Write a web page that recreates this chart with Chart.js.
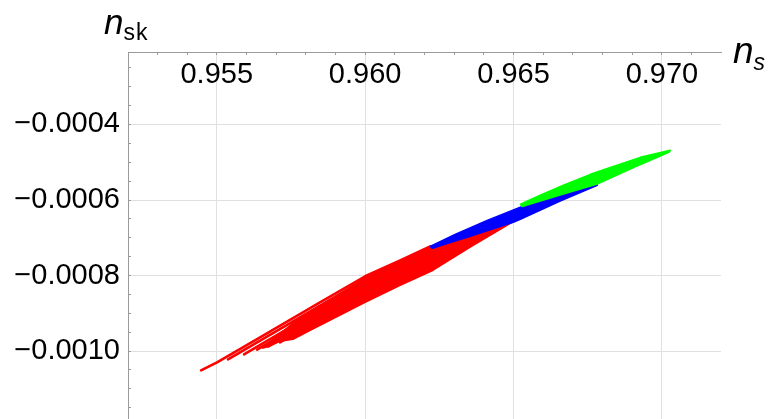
<!DOCTYPE html>
<html><head><meta charset="utf-8">
<script src="https://cdn.jsdelivr.net/npm/chart.js@4.4.0/dist/chart.umd.min.js"></script>
<style>
html,body{margin:0;padding:0;background:#fff;}
#wrap{position:relative;width:768px;height:419px;overflow:hidden;}
canvas{position:absolute;left:0;top:0;}
.lab{position:absolute;font-family:'Liberation Sans',Arial,sans-serif;color:#000;white-space:nowrap;}
.lab i{font-style:italic;}
.lab .sub{font-size:23px;position:relative;top:6px;letter-spacing:1px;}
</style></head><body>
<div id="wrap">
<canvas id="c" width="768" height="419"></canvas>
<div class="lab" style="left:104px;top:4px;font-size:35px;line-height:35px"><i>n</i><span class="sub">sk</span></div>
<div class="lab" style="left:733px;top:32px;font-size:37px;line-height:37px"><i>n</i><span class="sub" style="top:7px"><i>s</i></span></div>
</div>
<script>
// axis ranges and tick labels
const xRange = [0.95201, 0.97199];
const yRange = [-0.00118, -0.000208];
const xTickValues = [0.955, 0.960, 0.965, 0.970];
const xTickLabels = ['0.955', '0.960', '0.965', '0.970'];
const yTickValues = [-0.0010, -0.0008, -0.0006, -0.0004];
const yTickLabels = ['\u22120.0010', '\u22120.0008', '\u22120.0006', '\u22120.0004'];

// red region: separate strands at the low end, then the solid body
const redStrand1 = [[0.95447,-0.001051],[0.95501,-0.001030],[0.95646,-0.000964],[0.95848,-0.000871],[0.96000,-0.000802],[0.96118,-0.000760],[0.96219,-0.000723]];
const redStrand2 = [[0.95538,-0.001022],[0.96000,-0.000810]];
const redStrand3 = [[0.95592,-0.001009],[0.96000,-0.000821]];
const redStrand4 = [[0.95636,-0.000996],[0.96000,-0.000830]];
const redStrand5 = [[0.95673,-0.000988],[0.96000,-0.000839]];
const redStrand6 = [[0.95713,-0.000977],[0.96000,-0.000847]];
const redBody = [[0.95653,-0.000993],[0.95781,-0.000911],[0.95882,-0.000864],[0.96000,-0.000806],[0.96118,-0.000762],[0.96219,-0.000725],[0.96354,-0.000693],[0.96489,-0.000659],[0.96502,-0.000656],[0.96354,-0.000725],[0.96229,-0.000786],[0.96118,-0.000826],[0.96000,-0.000871],[0.95815,-0.000945],[0.95757,-0.000969],[0.95713,-0.000974],[0.95673,-0.000988]];
// blue region outline
const blueBand = [[0.96219,-0.000723],[0.96303,-0.000691],[0.96411,-0.000654],[0.96529,-0.000617],[0.96657,-0.000585],[0.96782,-0.000556],[0.96782,-0.000561],[0.96657,-0.000603],[0.96523,-0.000651],[0.96499,-0.000659],[0.96354,-0.000696],[0.96226,-0.000728]];
// green region outline
const greenBand = [[0.96523,-0.000611],[0.96590,-0.000587],[0.96668,-0.000561],[0.96759,-0.000532],[0.96836,-0.000511],[0.96927,-0.000487],[0.97028,-0.000468],[0.97025,-0.000473],[0.96893,-0.000518],[0.96782,-0.000558],[0.96657,-0.000587],[0.96529,-0.000617]];

const toPts = a => a.map(p => ({x: p[0], y: p[1]}));
const closed = a => toPts(a.concat([a[0]]));
const FONT = "'Liberation Sans', Arial, Helvetica, sans-serif";
const AXIS = '#9a9a9a', GRID = '#e0e0e0';

function region(data, color, order) {
  return {data: closed(data), borderColor: color, backgroundColor: color, fill: 'shape',
          borderWidth: 1.5, showLine: true, pointRadius: 0, tension: 0, order: order, borderJoinStyle: 'round'};
}
function strand(data) {
  return {data: toPts(data), borderColor: '#ff0000', backgroundColor: '#ff0000', fill: false,
          borderWidth: 2.6, showLine: true, pointRadius: 0, tension: 0, order: 2, borderCapStyle: 'round', borderJoinStyle: 'round'};
}

new Chart(document.getElementById('c'), {
  type: 'scatter',
  data: {datasets: [
    region(greenBand, '#00ff00', 0),
    region(blueBand, '#0000ff', 1),
    region(redBody, '#ff0000', 2),
    strand(redStrand1), strand(redStrand2), strand(redStrand3),
    strand(redStrand4), strand(redStrand5), strand(redStrand6)
  ]},
  options: {
    responsive: false, animation: false, devicePixelRatio: 1,
    layout: {padding: {top: 52, right: 47, bottom: 0, left: 0}},
    plugins: {legend: {display: false}, tooltip: {enabled: false}},
    scales: {
      x: {
        type: 'linear', position: {y: yRange[1]}, min: xRange[0], max: xRange[1],
        afterBuildTicks: s => { s.ticks = xTickValues.map(v => ({value: v})); },
        ticks: {callback: (v, i) => xTickLabels[i], font: {family: FONT, size: 29}, color: '#000',
                padding: 6, maxRotation: 0, autoSkip: false},
        grid: {color: GRID, drawTicks: false, lineWidth: 1},
        border: {color: AXIS, width: 1},
        afterFit: s => { s.paddingLeft = 0; s.paddingRight = 0; }
      },
      x2: {
        type: 'linear', position: {y: yRange[1]}, min: xRange[0], max: xRange[1],
        ticks: {stepSize: 0.001, callback: () => '', autoSkip: false, includeBounds: false, maxRotation: 0},
        grid: {drawOnChartArea: false, tickLength: 3, tickColor: AXIS},
        border: {display: false},
        afterFit: s => { s.paddingLeft = 0; s.paddingRight = 0; }
      },
      y: {
        type: 'linear', position: 'left', weight: 1, min: yRange[0], max: yRange[1],
        afterBuildTicks: s => { s.ticks = yTickValues.map(v => ({value: v})); },
        ticks: {callback: (v, i) => yTickLabels[i], font: {family: FONT, size: 29}, color: '#000', padding: 8, autoSkip: false},
        grid: {color: GRID, drawTicks: false, lineWidth: 1},
        border: {color: AXIS, width: 1},
        afterFit: s => { s.width = 128; s.paddingTop = 0; s.paddingBottom = 0; }
      },
      y2: {
        type: 'linear', position: 'left', weight: 0, min: yRange[0], max: yRange[1],
        ticks: {stepSize: 0.00005, callback: () => '', autoSkip: false, includeBounds: false},
        grid: {drawOnChartArea: false, tickLength: -3, tickColor: AXIS},
        border: {display: false},
        afterFit: s => { s.width = 0; s.paddingTop = 0; s.paddingBottom = 0; }
      }
    }
  }
});
</script>
</body></html>
